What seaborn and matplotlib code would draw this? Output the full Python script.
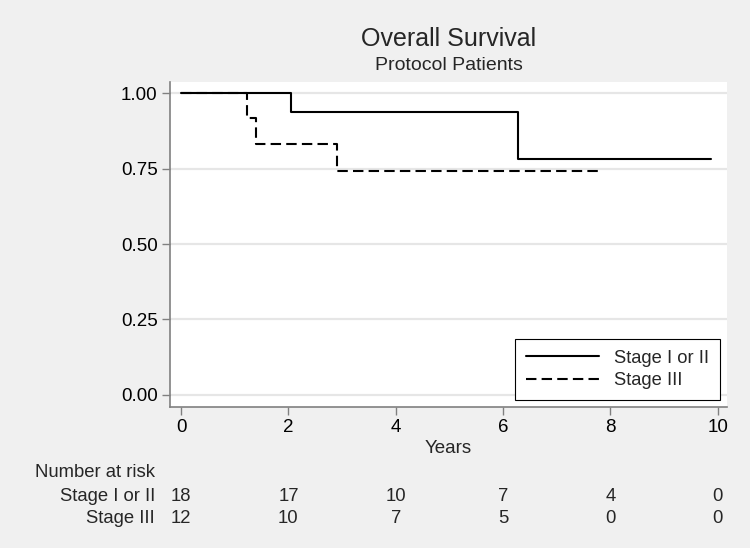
import pandas as pd
import numpy as np
import matplotlib
matplotlib.use('Agg')
import matplotlib.pyplot as plt
import matplotlib.transforms as mtransforms
import seaborn as sns

# Kaplan-Meier step points
t_early = [0, 2.05, 6.28, 9.88]
s_early = [1.0, 0.9375, 0.781, 0.781]
t_late = [0, 1.23, 1.40, 2.90, 7.85]
s_late = [1.0, 0.917, 0.833, 0.741, 0.741]
groups = ['Stage I or II', 'Stage III']

# number at risk table
risk_times = [0, 2, 4, 6, 8, 10]
risk_early = [18, 17, 10, 7, 4, 0]
risk_late = [12, 10, 7, 5, 0, 0]

df = pd.DataFrame({
    'Years': t_early + t_late,
    'Survival': s_early + s_late,
    'Group': [groups[0]] * len(t_early) + [groups[1]] * len(t_late),
})

bg = '#F0F0F0'
sns.set_style('white', rc={'figure.facecolor': bg, 'axes.facecolor': 'white'})
plt.rcParams['font.family'] = ['Liberation Sans', 'DejaVu Sans']

fig = plt.figure(figsize=(7.5, 5.48), dpi=100)
ax = fig.add_axes([0.2267, 0.2573, 0.9693 - 0.2267, 0.8504 - 0.2573])

sns.lineplot(data=df, x='Years', y='Survival', hue='Group', style='Group',
             palette=['black', 'black'], dashes={groups[0]: '', groups[1]: (5, 2.5)},
             estimator=None, drawstyle='steps-post', linewidth=1.5, ax=ax)

ax.set_xlim(-0.205, 10.17)
ax.set_ylim(-0.04, 1.037)
ax.set_xticks([0, 2, 4, 6, 8, 10])
ax.set_yticks([0, 0.25, 0.5, 0.75, 1.0])
ax.set_yticklabels(['0.00', '0.25', '0.50', '0.75', '1.00'])
ax.yaxis.grid(True, color='#E6E6E6', linewidth=1.6)
ax.xaxis.grid(False)
ax.set_axisbelow(True)
for side in ['top', 'right']:
    ax.spines[side].set_visible(False)
for side in ['left', 'bottom']:
    ax.spines[side].set_color('#808080')
    ax.spines[side].set_linewidth(1.2)
ax.tick_params(axis='both', direction='out', length=5.5, width=1, color='#808080',
               labelsize=13.5, pad=3.5, labelcolor='black', left=True, bottom=True)
ax.set_xlabel('Years', fontsize=13.5)
ax.xaxis.set_label_coords(0.5, -0.1)
ax.set_ylabel('')

leg = ax.legend(loc='lower right', fontsize=13.2, frameon=True, fancybox=False,
                handlelength=4.0, borderpad=0.6, labelspacing=0.3,
                borderaxespad=0, bbox_to_anchor=(0.9874, 0.0215))
leg.get_frame().set_edgecolor('black')
leg.get_frame().set_linewidth(0.8)
leg.get_frame().set_alpha(1)

fig.text(0.598, 1 - 46 / 548, 'Overall Survival', ha='center', va='baseline', fontsize=18)
fig.text(0.598, 1 - 70 / 548, 'Protocol Patients', ha='center', va='baseline', fontsize=14)

trans = mtransforms.blended_transform_factory(ax.transData, fig.transFigure)
label_x = 155 / 750
fig.text(label_x, 1 - 477 / 548, 'Number at risk', ha='right', va='baseline', fontsize=13.3)
fig.text(label_x, 1 - 501 / 548, groups[0], ha='right', va='baseline', fontsize=13.3)
fig.text(label_x, 1 - 523 / 548, groups[1], ha='right', va='baseline', fontsize=13.3)
for t, a, b in zip(risk_times, risk_early, risk_late):
    ax.text(t, 1 - 501 / 548, str(a), transform=trans, ha='center', va='baseline', fontsize=13.3)
    ax.text(t, 1 - 523 / 548, str(b), transform=trans, ha='center', va='baseline', fontsize=13.3)

fig.savefig('out.png', dpi=100, facecolor=bg)
